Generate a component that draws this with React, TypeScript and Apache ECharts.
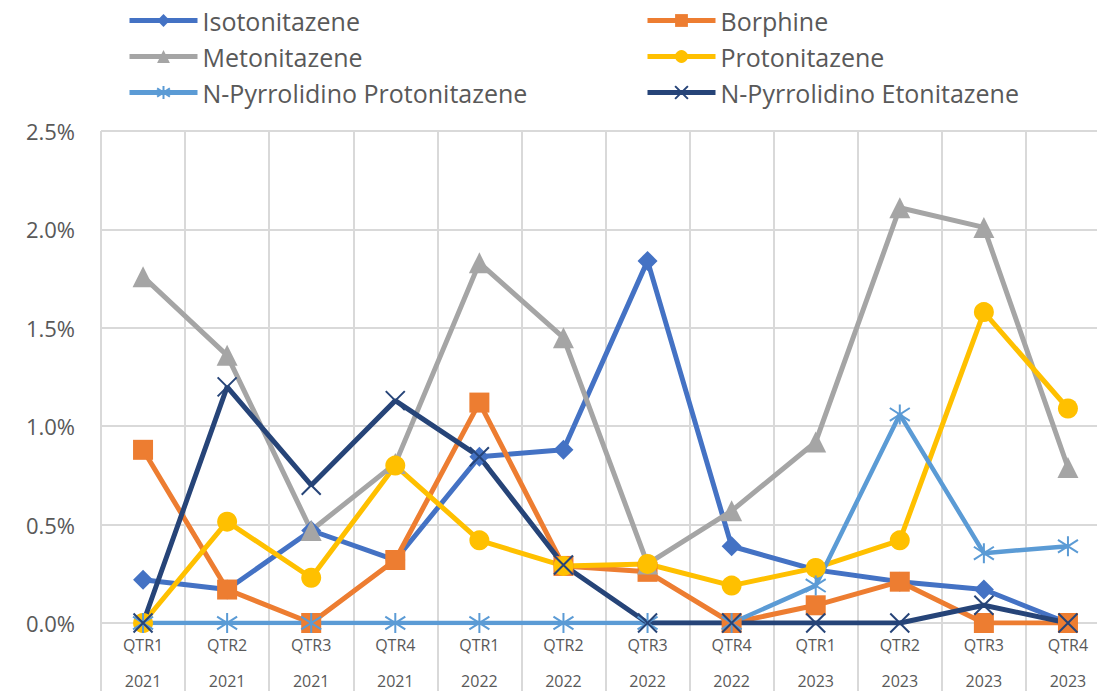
import React, { useEffect, useRef } from "react";
import * as echarts from "echarts";

const quarters = ["QTR1", "QTR2", "QTR3", "QTR4", "QTR1", "QTR2", "QTR3", "QTR4", "QTR1", "QTR2", "QTR3", "QTR4"];
const years = ["2021", "2021", "2021", "2021", "2022", "2022", "2022", "2022", "2023", "2023", "2023", "2023"];

// values in percent
const isotonitazene = [0.22, 0.17, 0.47, 0.32, 0.845, 0.88, 1.84, 0.39, 0.27, 0.21, 0.17, 0];
const borphine = [0.88, 0.17, 0, 0.32, 1.12, 0.29, 0.26, 0, 0.09, 0.21, 0, 0];
const metonitazene = [1.76, 1.36, 0.47, 0.81, 1.83, 1.45, 0.3, 0.57, 0.92, 2.11, 2.01, 0.79];
const protonitazene = [0, 0.515, 0.23, 0.8, 0.42, 0.29, 0.3, 0.19, 0.28, 0.42, 1.58, 1.09];
const nPyrrolidinoProtonitazene = [0, 0, 0, 0, 0, 0, 0, 0, 0.19, 1.06, 0.355, 0.39];
const nPyrrolidinoEtonitazene = [0, 1.2, 0.7, 1.13, 0.845, 0.295, 0, 0, 0, 0, 0.09, 0];

const FONT = "'Open Sans', 'Noto Sans', sans-serif";
const TEXT = "#595959";
const GRID = "#d9d9d9";

const X_SYMBOL = "path://M0,0L10,10M10,0L0,10";
const STAR_SYMBOL = "path://M5,0L5,10M0.8,1.8L9.2,8.2M0.8,8.2L9.2,1.8";

export default function App() {
  const ref = useRef<HTMLDivElement>(null);

  useEffect(() => {
    if (!ref.current) return;
    const chart = echarts.init(ref.current, undefined, { renderer: "svg" });
    const categories = quarters.map((q, i) => q + "\n" + years[i]);

    const seriesDefs = [
      { name: "Isotonitazene", data: isotonitazene, color: "#4472C4", symbol: "diamond", size: 20, width: 5 },
      { name: "Borphine", data: borphine, color: "#ED7D31", symbol: "rect", size: 20, width: 5 },
      { name: "Metonitazene", data: metonitazene, color: "#A5A5A5", symbol: "triangle", size: 21, width: 5 },
      { name: "Protonitazene", data: protonitazene, color: "#FFC000", symbol: "circle", size: 20, width: 5 },
      { name: "N-Pyrrolidino Protonitazene", data: nPyrrolidinoProtonitazene, color: "#5B9BD5", symbol: STAR_SYMBOL, size: 20, width: 4.5, stroke: true },
      { name: "N-Pyrrolidino Etonitazene", data: nPyrrolidinoEtonitazene, color: "#264478", symbol: X_SYMBOL, size: 19, width: 5, stroke: true },
    ];

    const legendPos = [
      { left: 127, top: 8 },
      { left: 645, top: 8 },
      { left: 127, top: 44 },
      { left: 645, top: 44 },
      { left: 127, top: 80 },
      { left: 645, top: 80 },
    ];

    chart.setOption({
      animation: false,
      backgroundColor: "#ffffff",
      textStyle: { fontFamily: FONT },
      legend: seriesDefs.map((s, i) => ({
        data: [s.name],
        left: legendPos[i].left,
        top: legendPos[i].top,
        padding: 0,
        itemWidth: 68,
        itemHeight: 16,
        selectedMode: false,
        lineStyle: { width: 5 },
        textStyle: { color: TEXT, fontSize: 25, fontFamily: FONT },
      })),
      grid: { left: 101, right: -13, top: 131, bottom: 68, containLabel: false, outerBoundsMode: "none" },
      xAxis: {
        type: "category",
        data: categories,
        boundaryGap: true,
        axisLine: { show: true, lineStyle: { color: GRID, width: 2 } },
        axisTick: { show: true, length: 70, lineStyle: { color: GRID, width: 2 } },
        splitLine: { show: true, lineStyle: { color: GRID, width: 2 } },
        axisLabel: { color: TEXT, fontSize: 16, lineHeight: 36, margin: 4, fontFamily: FONT },
      },
      yAxis: {
        type: "value",
        min: 0,
        max: 2.5,
        interval: 0.5,
        axisLine: { show: false },
        axisTick: { show: false },
        splitLine: { show: true, lineStyle: { color: GRID, width: 2 } },
        axisLabel: {
          color: TEXT,
          fontSize: 22,
          margin: 26,
          fontFamily: FONT,
          formatter: (v: number) => v.toFixed(1) + "%",
        },
      },
      series: seriesDefs.map((s) => ({
        name: s.name,
        type: "line",
        data: s.data,
        symbol: s.symbol,
        symbolSize: s.size,
        showAllSymbol: true,
        lineStyle: { color: s.color, width: s.width },
        itemStyle: s.stroke
          ? { color: s.color, borderColor: s.color, borderWidth: 2 }
          : { color: s.color, borderWidth: 0 },
        emphasis: { disabled: true },
      })),
    });

    return () => chart.dispose();
  }, []);

  return (
    <div
      ref={ref}
      style={{ position: "fixed", left: 0, top: 0, width: 1097, height: 691, background: "#fff" }}
    />
  );
}
